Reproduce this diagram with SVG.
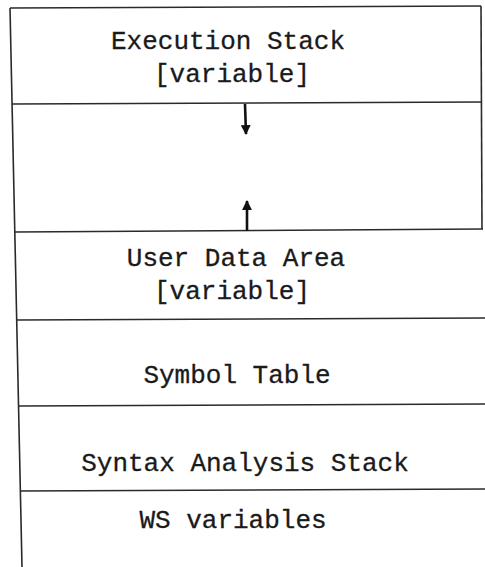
<svg xmlns="http://www.w3.org/2000/svg" width="485" height="567" viewBox="0 0 485 567">
<style>
.t{font-family:"Liberation Mono","DejaVu Sans Mono",monospace;font-size:26px;fill:#1a1a1a;stroke:#1a1a1a;stroke-width:0.3;text-anchor:middle}
.ln{stroke:#2a2a2a;stroke-width:1.6;fill:none}
.ar{stroke:#111;stroke-width:2.6;fill:none}
</style>
<defs>
<marker id="ah" viewBox="0 0 10 10" refX="9" refY="5" markerWidth="3.8" markerHeight="3.8" orient="auto">
<path d="M0,0 L10,5 L0,10 z" fill="#111"/>
</marker>
</defs>
<rect width="485" height="567" fill="#fff"/>
<g id="frame">
<line class="ln" x1="10" y1="8" x2="22" y2="567"/>
<line class="ln" x1="481" y1="6" x2="482" y2="229"/>
</g>
<g id="execution-stack">
<line class="ln" x1="10" y1="8" x2="481" y2="6"/>
<text class="t" x="228" y="49">Execution Stack</text>
<text class="t" x="232" y="82">[variable]</text>
</g>
<g id="free-space">
<line class="ln" x1="12" y1="104" x2="482" y2="102"/>
</g>
<g id="user-data-area">
<line class="ln" x1="15" y1="232" x2="483" y2="229"/>
<text class="t" x="236" y="266">User Data Area</text>
<text class="t" x="232" y="299">[variable]</text>
</g>
<g id="symbol-table">
<line class="ln" x1="17" y1="320" x2="485" y2="318"/>
<text class="t" x="237" y="383">Symbol Table</text>
</g>
<g id="syntax-analysis-stack">
<line class="ln" x1="19" y1="406" x2="485" y2="404"/>
<text class="t" x="245" y="471">Syntax Analysis Stack</text>
</g>
<g id="ws-variables">
<line class="ln" x1="20" y1="491" x2="485" y2="489"/>
<text class="t" x="233" y="528">WS variables</text>
</g>
<g id="connectors">
<line class="ar" x1="245" y1="104" x2="246" y2="134" marker-end="url(#ah)"/>
<line class="ar" x1="247" y1="231" x2="247" y2="201" marker-end="url(#ah)"/>
</g>
</svg>
